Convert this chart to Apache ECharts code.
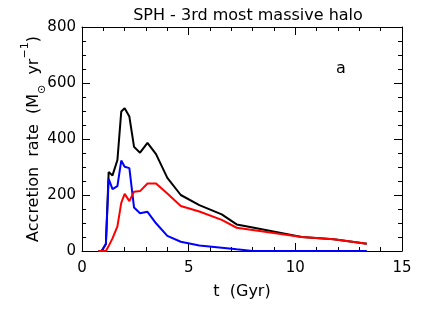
<!DOCTYPE html>
<html>
<head>
<meta charset="utf-8">
<script src="https://cdn.jsdelivr.net/npm/echarts@6/dist/echarts.min.js"></script>
<style>html,body{margin:0;padding:0;background:#fff}#c{width:437px;height:312px}</style>
</head>
<body>
<div id="c"></div>
<script>
var time  = [0.77, 0.92, 1.12, 1.25, 1.43, 1.66, 1.84, 2.0, 2.22, 2.44, 2.72, 3.07, 3.47, 4.0, 4.63, 5.5, 6.55, 7.25, 8.0, 10.3, 11.8, 13.35];
var total = [0, 0, 25, 282, 270, 325, 498, 510, 480, 372, 351, 386, 346, 261, 200, 164, 131, 95, 84, 50, 42, 26];
var red   = [0, 0, 0, 18, 45, 88, 172, 204, 178, 212, 214, 241, 241, 205, 161, 141, 111, 83, 75, 50, 42, 26];
var blue  = [null, 0, 25, 258, 221, 232, 323, 301, 296, 155, 135, 140, 99, 54, 33, 20, 12, 6, 0, 0, 0, 0];
var xTicks = [0, 5, 10, 15];
var yTicks = [0, 200, 400, 600, 800];

function pairs(v){ return time.map(function(t,i){ return [t, v[i]]; }); }
var font = 'DejaVu Sans';
var chart = echarts.init(document.getElementById('c'), null, {renderer:'canvas'});
function axisCommon(show, split){
  return {
    axisLine:{show:true, onZero:false, lineStyle:{color:'#000', width:1}},
    axisTick:{show:true, inside:true, length:8, lineStyle:{color:'#000'}},
    minorTick:{show:true, splitNumber:split, length:4, lineStyle:{color:'#000'}},
    splitLine:{show:false},
    axisLabel:{show:show, color:'#000', fontFamily:font, fontSize:15}
  };
}
var xb = Object.assign(axisCommon(true, 5), {type:'value', position:'bottom', min:xTicks[0], max:xTicks[xTicks.length-1], interval:5,
  name:'t  (Gyr)', nameLocation:'middle', nameGap:33, nameTextStyle:{color:'#000', fontFamily:font, fontSize:16}});
xb.axisLabel.margin = 10;
var xt = Object.assign(axisCommon(false, 5), {type:'value', position:'top', min:xTicks[0], max:xTicks[xTicks.length-1], interval:5});
var yl = Object.assign(axisCommon(true, 4), {type:'value', position:'left', min:yTicks[0], max:yTicks[yTicks.length-1], interval:200,
  name:'Accretion  rate  (M{sub|⊙}  yr{sup|−1})', nameLocation:'middle', nameGap:40, nameMoveOverlap:false,
  nameTextStyle:{color:'#000', fontFamily:font, fontSize:16,
    rich:{sub:{fontFamily:font, fontSize:11, verticalAlign:'bottom', padding:[0,0,-6,0]}, sup:{fontFamily:font, fontSize:11, verticalAlign:'top', padding:[-6,0,0,0]}}}});
yl.axisLabel.margin = 6;
var yr = Object.assign(axisCommon(false, 4), {type:'value', position:'right', min:yTicks[0], max:yTicks[yTicks.length-1], interval:200});

chart.setOption({
  animation:false,
  backgroundColor:'#fff',
  title:{text:'SPH - 3rd most massive halo', left:243, top:3, textAlign:'center',
    textStyle:{color:'#000', fontFamily:font, fontSize:16, fontWeight:'normal'}},
  grid:{left:82, right:35, top:27, bottom:61},
  xAxis:[xb, xt],
  yAxis:[yl, yr],
  graphic:[{type:'text', left:336, top:61, style:{text:'a', fill:'#000', font:'16px "DejaVu Sans"'}}],
  series:[
    {type:'line', data:pairs(total), showSymbol:false, lineStyle:{color:'#000', width:2}, itemStyle:{color:'#000'}},
    {type:'line', data:pairs(blue), showSymbol:false, lineStyle:{color:'#0000ff', width:2}, itemStyle:{color:'#0000ff'}},
    {type:'line', data:pairs(red), showSymbol:false, lineStyle:{color:'#ff0000', width:2}, itemStyle:{color:'#ff0000'}}
  ]
});
</script>
</body>
</html>
